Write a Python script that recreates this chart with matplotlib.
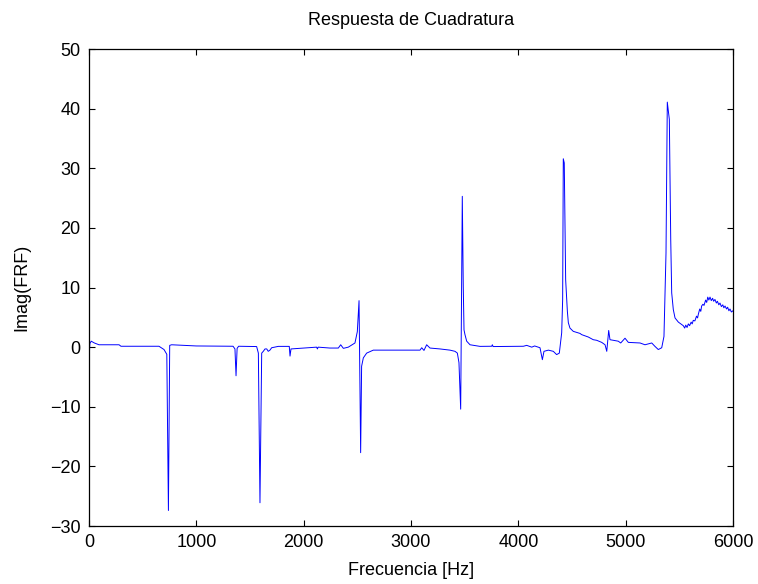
import matplotlib
matplotlib.use("Agg")
import matplotlib.pyplot as plt

plt.rcParams['font.family'] = ['Liberation Sans', 'DejaVu Sans']

# frecuencia [Hz] y parte imaginaria de la FRF
freq = [0, 8, 21, 50, 93, 280, 298, 652, 699, 725, 740, 752, 770, 1000,
        1342, 1360, 1370, 1380, 1394, 1562, 1578, 1593, 1609, 1624, 1640,
        1656, 1670, 1686, 1702, 1764, 1866, 1873, 1882, 1997, 2121, 2128,
        2135, 2245, 2323, 2345, 2370, 2416, 2478, 2500, 2516, 2531, 2540,
        2556, 2587, 2649, 3084, 3100, 3121, 3146, 3177, 3270, 3363, 3410,
        3432, 3447, 3463, 3478, 3487, 3494, 3503, 3519, 3550, 3643, 3752,
        3758, 3765, 4047, 4078, 4125, 4152, 4202, 4224, 4239, 4280, 4326,
        4357, 4382, 4404, 4413, 4419, 4428, 4441, 4450, 4457, 4466, 4481,
        4512, 4540, 4575, 4590, 4652, 4698, 4730, 4777, 4808, 4824, 4842,
        4854, 4885, 4931, 4954, 4994, 5025, 5134, 5180, 5243, 5273, 5304,
        5336, 5357, 5376, 5388, 5407, 5420, 5429, 5444, 5460, 5491, 5537,
        5550, 5560, 5572, 5584, 5596, 5610, 5620, 5630, 5645, 5660, 5670,
        5677, 5690, 5700, 5708, 5720, 5730, 5745, 5755, 5765, 5775, 5786,
        5798, 5810, 5820, 5832, 5845, 5855, 5868, 5879, 5892, 5905, 5915,
        5926, 5940, 5950, 5962, 5972, 5985, 6000]

imag_frf = [-2.4, 0.6, 1.0, 0.7, 0.4, 0.4, 0.15, 0.15, -0.4, -1.2, -27.4, 0.3, 0.4, 0.2,
            0.15, -0.3, -4.8, -0.2, 0.15, 0.1, -1.0, -26.1, -1.0, -0.7, -0.3,
            -0.3, -0.7, -0.5, -0.1, 0.13, 0.13, -1.5, -0.3, -0.15, 0.0, -0.3,
            0.0, -0.15, -0.15, 0.4, -0.2, 0.0, 0.7, 2.6, 7.8, -17.7, -3.2,
            -1.8, -1.0, -0.5, -0.5, -0.1, -0.55, 0.4, -0.15, -0.3, -0.5, -0.7,
            -1.0, -2.6, -10.4, 25.3, 10.2, 2.9, 2.1, 1.0, 0.4, 0.13, 0.15,
            0.4, 0.1, 0.15, 0.3, 0.0, 0.2, -0.1, -2.1, -0.7, -0.5, -0.7,
            -1.25, -1.0, 2.4, 8.0, 31.6, 30.9, 11.3, 8.5, 6.0, 4.1, 3.2,
            2.65, 2.5, 2.3, 2.1, 1.7, 1.25, 1.15, 0.8, 0.4, -0.7, 2.8,
            1.25, 1.15, 1.0, 0.7, 1.5, 0.8, 0.7, 0.4, 0.7, 0.13, -0.4,
            -0.1, 1.8, 15.8, 41.1, 38.2, 18.0, 9.1, 6.3, 4.9, 4.2, 3.6,
            3.2, 3.7, 3.3, 3.9, 3.6, 4.2, 3.9, 4.5, 4.4, 5.2, 4.9,
            5.5, 6.4, 6.0, 6.9, 7.2, 7.0, 7.9, 7.5, 8.4, 7.9, 8.4,
            7.8, 8.2, 7.7, 8.0, 7.4, 7.7, 7.1, 7.4, 6.8, 7.1, 6.6,
            6.9, 6.4, 6.7, 6.1, 6.4, 5.9, 6.1]

xticks = [0, 1000, 2000, 3000, 4000, 5000, 6000]
yticks = [-30, -20, -10, 0, 10, 20, 30, 40, 50]

fig = plt.figure(figsize=(7.58, 5.84), dpi=100)
ax = fig.add_axes([0.1174, 0.0993, 0.8496, 0.8167])

ax.plot(freq, imag_frf, color='#0000ff', linewidth=0.7)

ax.set_xlim(0, 6000)
ax.set_ylim(-30, 50)
ax.set_xticks(xticks)
ax.set_yticks(yticks)
ax.tick_params(direction='in', length=4, width=0.8, labelsize=13,
               top=True, right=True, pad=6)
for s in ax.spines.values():
    s.set_linewidth(0.9)

ax.set_title('Respuesta de Cuadratura', fontsize=13, pad=17)
ax.set_xlabel('Frecuencia [Hz]', fontsize=13, labelpad=8)
ax.set_ylabel('Imag(FRF)', fontsize=13, labelpad=14)

fig.savefig('out.png', dpi=100)
